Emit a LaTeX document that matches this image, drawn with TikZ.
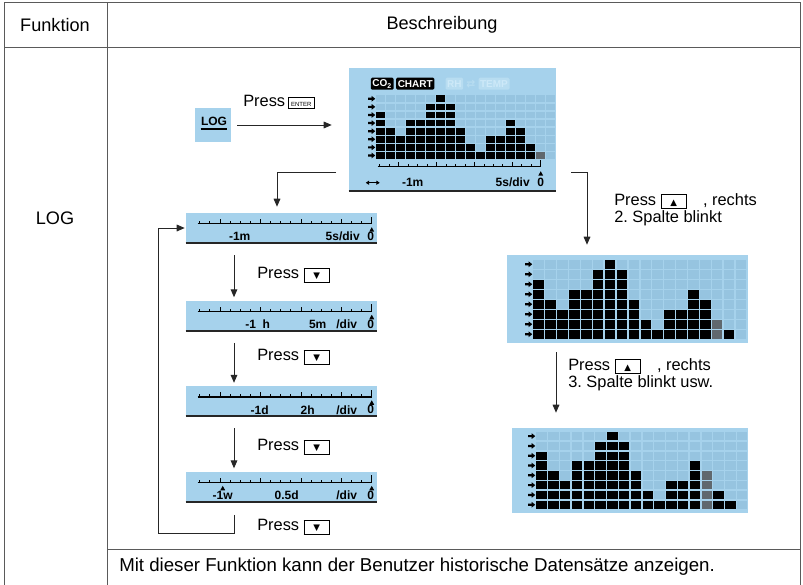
\documentclass[tikz,border=0pt]{standalone}
\usepackage{fontspec}
\setmainfont{Liberation Sans}
\newfontfamily\symfont{DejaVu Sans}
\usepackage{xcolor}
\usepackage{tikz}
\usetikzlibrary{arrows.meta, positioning}
\frenchspacing

\definecolor{lcdblue}{RGB}{166,210,236}
\definecolor{lcdcell}{RGB}{150,196,224}
\definecolor{lcdgray}{RGB}{96,104,110}
\definecolor{lcdfaint}{RGB}{184,221,241}
\definecolor{lcdfainttxt}{RGB}{205,233,248}
\definecolor{rulegray}{RGB}{90,90,90}

\newcommand{\keycap}[1]{{\setlength{\fboxsep}{0.6pt}\setlength{\fboxrule}{0.6pt}\fbox{\makebox[17pt]{\rule[-1.5pt]{0pt}{8.5pt}\fontsize{6.5}{6.5}\symfont #1}}}}
\newcommand{\enterkey}{{\setlength{\fboxsep}{0.5pt}\setlength{\fboxrule}{0.5pt}\fbox{\makebox[18pt]{\rule[-1pt]{0pt}{7pt}\fontsize{4.5}{4.5}\selectfont ENTER}}}}

% histogram: x0, y0, cell w, cell h, blinking column
\newcommand{\lcdchart}[5]{%
  \foreach \hc/\hv in {1/6,2/4,3/3,4/5,5/5,6/7,7/8,8/7,9/4,10/2,11/1,12/3,13/3,14/5,15/4,16/2,17/1,18/0}{%
    \foreach \hr in {1,...,8}{%
      \ifnum\hr>\hv\relax\def\hcol{lcdcell}\else\ifnum\hc=#5\relax\def\hcol{lcdgray}\else\def\hcol{black}\fi\fi
      \fill[\hcol] ({#1+(\hc-1)*#3+0.7},{#2+(8-\hr)*#4+0.7}) rectangle ({#1+\hc*#3-0.7},{#2+(9-\hr)*#4-0.7});
    }%
  }%
  \foreach \hr in {1,...,8}{%
    \fill[shift={({#1-4},{#2+(\hr-0.5)*#4})}] (-3.5,-1.1) -- (0,-1.1) -- (0,-2.8) -- (3.5,0) -- (0,2.8) -- (0,1.1) -- (-3.5,1.1) -- cycle;
  }%
}
% time axis: x start, x end, y
\newcommand{\lcdaxis}[3]{%
  \draw[line width=1.1pt] (#1,#3) -- (#2,#3);
  \foreach \ti in {0,...,16}{%
    \pgfmathsetmacro\tx{#1+2+\ti*(#2-#1-2)/17}
    \pgfmathtruncatemacro\tm{mod(\ti,4)}
    \ifnum\tm=2\relax\draw[line width=0.6pt] (\tx,#3) -- (\tx,#3-4.5);\else\draw[line width=0.6pt] (\tx,#3) -- (\tx,#3-2.5);\fi
  }%
  \draw[line width=0.8pt] (#2,#3) -- (#2,#3-7);
}
\newcommand{\lcdtri}[2]{\fill (#1-2.5,#2+2) -- (#1+2.5,#2+2) -- (#1,#2-2.5) -- cycle;}

\begin{document}
\begin{tikzpicture}[x=0.75pt, y=-0.75pt, node distance=41.25pt, >={Triangle[length=6pt,width=5pt]}]
    \tikzstyle{lcd} = [rectangle, fill=lcdblue, inner sep=0pt]
    \tikzstyle{conn} = [->, draw=black!85, line width=0.75pt]
    \tikzstyle{lcdtxt} = [font=\fontsize{9}{9}\selectfont\bfseries, inner sep=0pt]
    \tikzstyle{badge} = [font=\fontsize{7.5}{7.5}\selectfont\bfseries, text=white, fill=black, rounded corners=1pt, inner xsep=1.2pt, inner ysep=0pt, minimum height=9pt]
    \tikzstyle{faint} = [badge, text=lcdfainttxt, fill=lcdfaint]
    \tikzstyle{small} = [font=\fontsize{12.3}{12.75}\selectfont, inner sep=0pt, align=left]
    \tikzstyle{cell} = [font=\fontsize{13.6}{16}\selectfont, inner sep=0pt]
    \tikzstyle{edge} = [line width=1.4pt, black!85]

    \useasboundingbox (0,0) rectangle (803,585);
    \fill[white] (0,0) rectangle (803,585);

    % table
    \draw[rulegray, line width=0.75pt] (4,585) -- (4,3) -- (800,3) -- (800,585);
    \draw[rulegray, line width=0.75pt] (4,48) -- (800,48);
    \draw[rulegray, line width=0.75pt] (107,3) -- (107,585);
    \draw[rulegray, line width=0.75pt] (107,549) -- (800,549);
    \node[cell] (hf) at (55,25) {Funktion};
    \node[cell] (hb) at (442,25) {Beschreibung};
    \node[cell] (flog) at (55,218) {LOG};
    \node[cell, anchor=west, font=\fontsize{14}{16}\selectfont] (desc) at (119,567) {Mit dieser Funktion kann der Benutzer historische Datensätze anzeigen.};

    % LOG key
    \node[lcd, minimum width=27pt, minimum height=25.5pt] (logkey) at (213,125) {};
    \node[font=\fontsize{9}{9}\selectfont\bfseries, inner sep=0pt] (logt) at (214,121) {LOG};
    \draw[line width=1.5pt] ([yshift=-2.5pt]logt.south west) -- ([yshift=-2.5pt]logt.south east);

    % main screen
    \node[lcd, minimum width=155.25pt, minimum height=92.25pt] (main) at (452.5,129.5) {};
    \draw[edge] (main.south west) -- (main.south east);
    \begin{scope}[shift={(main.north west)}]
        \node[badge] (co2) at (33.5,16) {CO\textsubscript{2}};
        \node[badge, right=1.5pt of co2] (chart) {CHART};
        \node[faint, right=8pt of chart] (rh) {RH};
        \node[lcdtxt, text=lcdfaint, right=2pt of rh, font=\fontsize{8}{8}\symfont\bfseries] (swap) {⇄};
        \node[faint, right=2pt of swap] (temp) {TEMP};
        \lcdchart{27}{27}{10}{8.1}{17}
        \lcdaxis{29}{192}{99}
        \lcdtri{192}{106}
        \draw[<->, >={Triangle[length=2.5pt,width=3pt]}, line width=0.8pt] (17,115) -- (31,115);
        \node[lcdtxt] (m0) at (192,115) {0};
        \node[lcdtxt] (mm) at (64,115) {-1m};
        \node[lcdtxt] (md) at (164,115) {5s/div};
    \end{scope}

    % time strips
    \node[lcd, minimum width=143.25pt, minimum height=22.5pt] (s1) at (281.5,228) {};
    \node[lcd, minimum width=143.25pt, minimum height=22.5pt, below=42.75pt of s1] (s2) {};
    \node[lcd, minimum width=143.25pt, minimum height=22.5pt, below=41.25pt of s2] (s3) {};
    \node[lcd, minimum width=143.25pt, minimum height=22.5pt, below=41.25pt of s3] (s4) {};
    \foreach \s in {s1,s2,s3,s4}{
        \draw[edge] (\s.south west) -- (\s.south east);
        \begin{scope}[shift={(\s.north west)}]
            \lcdaxis{12}{186}{11}
            \lcdtri{186}{17}
            \node[lcdtxt] (\s-0) at (185,24) {0};
        \end{scope}
    }
    \begin{scope}[shift={(s1.north west)}]
        \node[lcdtxt] (s1-a) at (54,24) {-1m};
        \node[lcdtxt] (s1-b) at (157,24) {5s/div};
    \end{scope}
    \begin{scope}[shift={(s2.north west)}]
        \node[lcdtxt] (s2-a) at (72,24) {-1\ \ h};
        \node[lcdtxt] (s2-b) at (132,24) {5m};
        \node[lcdtxt] (s2-c) at (161,24) {/div};
    \end{scope}
    \begin{scope}[shift={(s3.north west)}]
        \node[lcdtxt] (s3-a) at (74,24) {-1d};
        \node[lcdtxt] (s3-b) at (122,24) {2h};
        \node[lcdtxt] (s3-c) at (161,24) {/div};
    \end{scope}
    \begin{scope}[shift={(s4.north west)}]
        \lcdtri{37}{17}
        \node[lcdtxt] (s4-a) at (37,24) {-1w};
        \node[lcdtxt] (s4-b) at (101,24) {0.5d};
        \node[lcdtxt] (s4-c) at (161,24) {/div};
    \end{scope}

    % bar screens
    \node[lcd, minimum width=180.75pt, minimum height=66pt] (bar1) at (627.5,299) {};
    \begin{scope}[shift={(bar1.north west)}]
        \lcdchart{26}{4.5}{11.9}{10}{16}
    \end{scope}
    \node[lcd, minimum width=177pt, minimum height=63.75pt] (bar2) at (630,470.5) {};
    \begin{scope}[shift={(bar2.north west)}]
        \lcdchart{24}{3.5}{11.8}{9.8}{15}
    \end{scope}

    % labels
    \node[small, anchor=west] (pe) at (243,102) {Press\,\enterkey};
    \node[small, anchor=west] (p1) at (257,275) {Press \keycap{▼}};
    \node[small, anchor=west] (p2) at (257,357) {Press \keycap{▼}};
    \node[small, anchor=west] (p3) at (257,447) {Press \keycap{▼}};
    \node[small, anchor=west] (p4) at (257,527) {Press \keycap{▼}};
    \node[small, anchor=north west] (r1) at (614,193) {Press \keycap{▲}\quad, rechts\\2. Spalte blinkt};
    \node[small, anchor=north west] (r2) at (568,358) {Press \keycap{▲}\quad, rechts\\3. Spalte blinkt usw.};

    % connectors
    \coordinate (m1) at (336,172);
    \coordinate (m2) at (277,0);
    \coordinate (m3) at (571,172);
    \coordinate (m4) at (587,0);
    \coordinate (m5) at (234,0);
    \coordinate (m6) at (158,533);
    \coordinate (m7) at (556,0);
    \draw[conn, shorten <=4.5pt, shorten >=12.75pt] (logkey.east) -- (logkey.east -| main.west);
    \draw[conn, shorten >=4.5pt] (m1) -| (s1.north -| m2);
    \draw[conn, shorten >=7.5pt] (m3) -| (bar1.north -| m4);
    \foreach \a/\b in {s1/s2, s2/s3, s3/s4}
        \draw[conn, shorten <=9pt, shorten >=2.25pt] (\a.south -| m5) -- (\b.north -| m5);
    \draw[conn, shorten <=9.75pt, shorten >=0.75pt] (s4.south -| m5) |- (m6) |- (s1.west);
    \draw[conn, shorten <=6.75pt, shorten >=11.25pt] (bar1.south -| m7) -- (bar2.north -| m7);
\end{tikzpicture}
\end{document}
